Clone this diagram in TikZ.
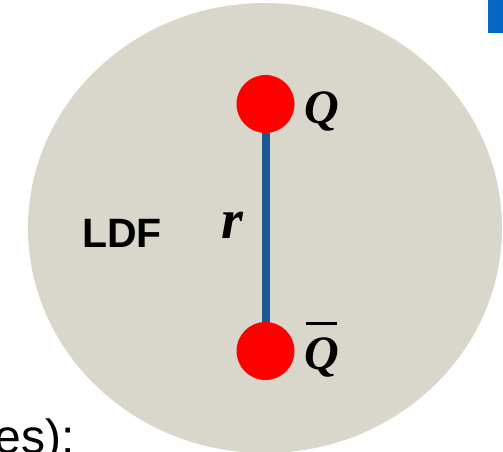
\documentclass[tikz,border=0pt]{standalone}
\usepackage{fontspec}
\setsansfont{Liberation Sans}
\newfontfamily\labfont{Liberation Serif}
\usepackage{xcolor}
\usepackage{tikz}
\usetikzlibrary{positioning}

\definecolor{bagfill}{RGB}{217,215,203}
\definecolor{stringblue}{RGB}{27,88,148}
\definecolor{tabblue}{RGB}{5,102,196}

\begin{document}
\begin{tikzpicture}[
    x=0.5pt, y=0.5pt,
    quark/.style={circle, fill=red, minimum size=29pt, inner sep=0pt},
    qlab/.style={font=\labfont\bfseries\itshape\fontsize{24}{28}\selectfont, inner sep=0pt},
    string/.style={line width=4pt, draw=stringblue},
    txt/.style={font=\sffamily\bfseries\fontsize{20.5}{24}\selectfont, inner sep=0pt}
]
\useasboundingbox (0,0) rectangle (503,451);

% Bag and corner tab
\fill[bagfill] (265,223) ellipse [x radius=237, y radius=225];
\fill[tabblue] (488,418) rectangle (503,451);

% Quark pair joined by the string
\node[quark] (q)    at (265.5,347) {};
\node[quark] (qbar) at (265.5,100) {};
\draw[string] (q) -- (qbar);

% Labels
\node[qlab, anchor=west] (qlab) at (304,340) {Q};
\node[qlab, anchor=west] (qbarlab) at (304,94) {Q};
\draw[line width=1.5pt] (306,128) -- (337,128);
\node[qlab, font=\labfont\bfseries\itshape\fontsize{28}{32}\selectfont] (rlab) at (232,226) {r};
\node[txt] (ldf) at (122,218) {LDF};

% Cut-off text at the bottom
\node[font=\sffamily\fontsize{24}{28}\selectfont, inner sep=0pt, anchor=base west] (tail) at (-6,-2) {es):};
\end{tikzpicture}
\end{document}
